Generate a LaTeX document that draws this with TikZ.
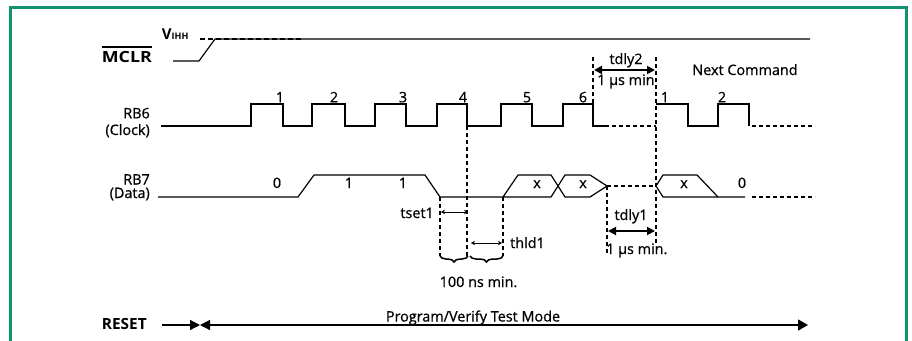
\documentclass[tikz,border=0pt]{standalone}
\usepackage{fontspec}
\setmainfont{Open Sans}
\newfontfamily\medfont{Open Sans}[FakeBold=0.7]
\usepackage{graphicx}
\usetikzlibrary{arrows.meta,decorations.pathreplacing}
\definecolor{framegreen}{RGB}{18,146,112}
\begin{document}
\begin{tikzpicture}[x=1pt,y=-1pt,
  sig/.style={line width=1.2pt,line join=miter},
  dsh/.style={line width=1.2pt,dash pattern=on 4pt off 3pt},
  lbl/.style={inner sep=0pt,font=\medfont\fontsize{14.4}{16}\selectfont},
  big/.style={inner sep=0pt,font=\bfseries\fontsize{15.4}{17}\selectfont},
  thinarrow/.style={line width=0.8pt,{Stealth[length=4pt,width=4.5pt]}-{Stealth[length=4pt,width=4.5pt]}},
  thickarrow/.style={line width=1.8pt,{Triangle[length=8pt,width=8pt]}-{Triangle[length=8pt,width=8pt]}},
  brc/.style={line width=1.5pt,decorate,decoration={brace,mirror,amplitude=6pt}},
  bigtip/.style={line width=1.2pt}]
\fill[white] (0,0) rectangle (912,340);
\path[use as bounding box] (0,0) rectangle (912,340);
% frame
\draw[framegreen,line width=3pt] (10.5,350) -- (10.5,7.5) -- (906.5,7.5) -- (906.5,350);

% MCLR
\node[big,anchor=base west] (mclr) at (101.7,62.3) {\scalebox{1.16}[1]{MCLR}};
\draw[line width=1.4pt] ([yshift=4pt]mclr.north west) -- ([yshift=4pt]mclr.north east);
\node[inner sep=0pt,anchor=base west,font=\bfseries] (vihh) at (161.7,39.3) {\fontsize{15}{16}\selectfont V\fontsize{9}{10}\selectfont IHH};
\draw[sig] (173,61) -- (199,61) -- (215,39) -- (810,39);
\draw[line width=1.6pt,dash pattern=on 5pt off 3pt] (200,39) -- (302,39);

% RB6 clock
\node[lbl,anchor=base east] (rb6) at (150,118.3) {RB6};
\node[lbl,anchor=base east] (clk) at (150,135) {(Clock)};
\draw[sig] (161,126) -- (251,126) -- (251,104) -- (283,104) -- (283,126) -- (312,126) -- (312,104) -- (345,104) -- (345,126) -- (375,126) -- (375,104) -- (406,104) -- (406,126) -- (437,126) -- (437,104) -- (467,104) -- (467,126) -- (501,126) -- (501,104) -- (532,104) -- (532,126) -- (563,126) -- (563,104) -- (593,104) -- (593,126) -- (605,126);
\draw[dsh] (605,126) -- (656,126);
\draw[sig] (656,104) -- (688,104) -- (688,126) -- (718,126) -- (718,104) -- (749,104) -- (749,126);
\draw[dsh] (752,126) -- (815,126);
\foreach \xx/\t [count=\i] in {280/1,334/2,403/3,463/4,527/5,583/6,665/1,722/2}
  \node[lbl,anchor=base] (c\i) at (\xx,102.3) {\t};
\node[lbl,anchor=base] (next) at (745,75) {Next Command};

% RB7 data
\node[lbl,anchor=base east] (rb7) at (150,184.5) {RB7};
\node[lbl,anchor=base east] (dat) at (150,198) {(Data)};
\draw[sig] (158,197) -- (298,197) -- (314,175) -- (425,175) -- (440,197) -- (551,197) -- (565,175) -- (590,175) -- (607,186) -- (590,197) -- (565,197) -- (551,175) -- (518,175) -- (503,197);
\draw[dsh] (607,186) -- (656,186);
\draw[sig] (697,175) -- (663,175) -- (656,186) -- (663,197) -- (745,197);
\draw[sig] (697,175) -- (718,197);
\draw[dsh] (752,197) -- (815,197);
\foreach \xx/\t [count=\i] in {277/0,349/1,403/1,537/x,583/x,684/x,742/0}
  \node[lbl,anchor=base] (d\i) at (\xx,188) {\t};

% vertical guides
\draw[dsh] (467,126) -- (467,256);
\draw[dsh] (440,197) -- (440,256);
\draw[dsh] (503,197) -- (503,256);
\draw[dsh] (607,186) -- (607,254);
\draw[dsh] (656,57) -- (656,243);
\draw[dsh] (593,57) -- (593,104);

% tset1 / thld1
\coordinate (ts0) at (441,212); \coordinate (ts1) at (468,212);
\draw[thinarrow] (ts0) -- (ts1);
\node[lbl,anchor=base east] (tset) at (434,218) {tset1};
\coordinate (th0) at (471,243); \coordinate (th1) at (502,243);
\draw[thinarrow] (th0) -- (th1);
\node[lbl,anchor=base west] (thld) at (510,248) {thld1};
% braces
\coordinate (b0) at (440,256); \coordinate (b1) at (468,256); \coordinate (b2) at (470,256); \coordinate (b3) at (503,256);
\draw[brc] (b0) -- (b1);
\draw[brc] (b2) -- (b3);
\node[lbl,anchor=base] (ns) at (478.5,287) {100 ns min.};

% tdly1
\coordinate (t10) at (608,231); \coordinate (t11) at (655,231);
\draw[thickarrow] (t10) -- (t11);
\node[lbl,anchor=base] (tdly1) at (631,220) {tdly1};
\node[lbl,anchor=base west] (us1) at (606,254) {1 µs min.};

% tdly2
\coordinate (t20) at (594,70); \coordinate (t21) at (655,70);
\draw[thickarrow] (t20) -- (t21);
\node[lbl,anchor=base] (tdly2) at (626,64) {tdly2};
\node[lbl,anchor=base west] (us2) at (597,85) {1 µs min};

% RESET
\node[big,anchor=base west] (reset) at (101.7,329.3) {RESET};
\coordinate (r0) at (162,325); \coordinate (rm) at (200,325); \coordinate (r1) at (808,325);
\draw[bigtip,-{Triangle[length=10pt,width=10pt]}] (r0) -- (rm);
\draw[bigtip,{Triangle[length=10pt,width=10pt]}-{Triangle[length=10pt,width=11pt]}] (rm) -- (r1);
\node[lbl,anchor=base] (prog) at (473,321.5) {Program/Verify Test Mode};
\end{tikzpicture}
\end{document}
